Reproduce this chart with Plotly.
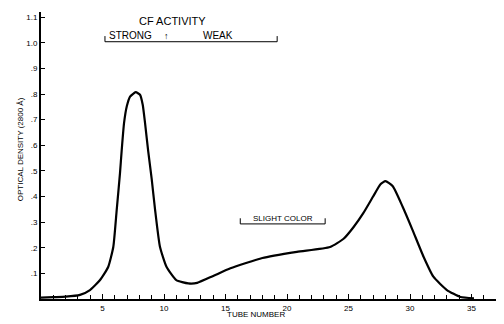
import plotly.graph_objects as go

tube = [0, 1, 2, 3.17, 3.98, 4.8, 5.47, 5.88, 6.15, 6.42, 6.56, 6.75, 6.97, 7.24, 7.7, 8.05, 8.27, 8.46,
        8.72, 9.0, 9.27, 9.67, 10.2, 11.0, 11.97, 12.7, 14.0, 15.4, 18.0, 20.8, 23.5, 24.6, 25.4, 26.2,
        27.0, 27.6, 28.0, 28.6, 29.4, 30.2, 31.1, 31.9, 33.0, 34.1, 35.2]
density = [0.005, 0.007, 0.009, 0.016, 0.035, 0.074, 0.126, 0.204, 0.345, 0.49, 0.58, 0.686, 0.751,
           0.79, 0.807, 0.797, 0.758, 0.686, 0.575, 0.468, 0.35, 0.204, 0.126, 0.074, 0.061, 0.063,
           0.09, 0.12, 0.16, 0.184, 0.203, 0.235, 0.28, 0.335, 0.40, 0.448, 0.46, 0.44, 0.36, 0.27,
           0.165, 0.087, 0.035, 0.008, 0.003]

x_ticks = [5, 10, 15, 20, 25, 30, 35]
x_labels = ["5", "10", "15", "20", "25", "30", "35"]
y_ticks = [0.1, 0.2, 0.3, 0.4, 0.5, 0.6, 0.7, 0.8, 0.9, 1.0, 1.1]
y_labels = [".1", ".2", ".3", ".4", ".5", ".6", ".7", ".8", ".9", "1.0", "1.1"]

cf_range = [5.2, 19.2]
cf_split = 10.2
color_range = [16.2, 23.1]
cf_y = 1.004
color_y = 0.293

FONT = "Liberation Sans, Arial, sans-serif"

fig = go.Figure()
fig.add_trace(go.Scatter(x=tube, y=density, mode="lines",
                         line=dict(color="black", width=2.2, shape="spline", smoothing=0.5),
                         hoverinfo="skip", showlegend=False))

shapes = []
shapes.append(dict(type="line", xref="x", yref="y", x0=cf_range[0], x1=cf_range[1], y0=cf_y, y1=cf_y,
                   line=dict(color="black", width=1)))
for xv in cf_range:
    shapes.append(dict(type="line", xref="x", yref="y", x0=xv, x1=xv, y0=cf_y, y1=cf_y + 0.022,
                       line=dict(color="black", width=1)))
shapes.append(dict(type="line", xref="x", yref="y", x0=color_range[0], x1=color_range[1], y0=color_y, y1=color_y,
                   line=dict(color="black", width=1)))
for xv in color_range:
    shapes.append(dict(type="line", xref="x", yref="y", x0=xv, x1=xv, y0=color_y, y1=color_y + 0.022,
                       line=dict(color="black", width=1)))

annotations = [
    dict(x=10.7, y=1.085, xref="x", yref="y", text="CF ACTIVITY", showarrow=False,
         font=dict(size=11, family=FONT, color="black")),
    dict(x=cf_range[0] + 0.2, y=cf_y - 0.006, xref="x", yref="y", text="STRONG", showarrow=False,
         xanchor="left", yanchor="bottom", font=dict(size=10, family=FONT, color="black")),
    dict(x=cf_split, y=cf_y - 0.006, xref="x", yref="y", text="↑", showarrow=False,
         yanchor="bottom", font=dict(size=9, family=FONT, color="black")),
    dict(x=13.0, y=cf_y - 0.006, xref="x", yref="y", text="WEAK", showarrow=False,
         xanchor="left", yanchor="bottom", font=dict(size=10, family=FONT, color="black")),
    dict(x=(color_range[0] + color_range[1]) / 2, y=color_y - 0.004, xref="x", yref="y", text="SLIGHT COLOR",
         showarrow=False, yanchor="bottom", font=dict(size=8, family=FONT, color="black")),
    dict(x=17.5, y=0, xref="x", yref="paper", yshift=-9, text="TUBE NUMBER", showarrow=False,
         yanchor="top", font=dict(size=8, family=FONT, color="black")),
    dict(x=0, y=0.52, xref="paper", yref="paper", xshift=-27, text="OPTICAL DENSITY (2800 Å)",
         textangle=-90, showarrow=False, font=dict(size=8, family=FONT, color="black")),
]

# the page body has an 8px margin, so the figure is sized to end at the window edge
fig.update_layout(
    width=496, height=316,
    margin=dict(l=33, r=0, t=4, b=25),
    paper_bgcolor="white", plot_bgcolor="white",
    shapes=shapes, annotations=annotations,
    font=dict(family=FONT, size=9, color="black"),
    xaxis=dict(range=[0, 37.64], tickvals=x_ticks, ticktext=x_labels, ticks="inside", ticklen=5,
               tickwidth=1, tickcolor="black", showline=True, linecolor="black", linewidth=2,
               showgrid=False, zeroline=False, tickfont=dict(size=8), automargin=False,
               minor=dict(ticks="inside", dtick=1, ticklen=4, tickcolor="black", tickwidth=1, showgrid=False)),
    yaxis=dict(range=[0, 1.12], tickvals=y_ticks, ticktext=y_labels, ticks="inside", ticklen=4,
               tickwidth=1, tickcolor="black", showline=True, linecolor="black", linewidth=2,
               showgrid=False, zeroline=False, tickfont=dict(size=8), automargin=False),
)

fig.write_html("out.html")
